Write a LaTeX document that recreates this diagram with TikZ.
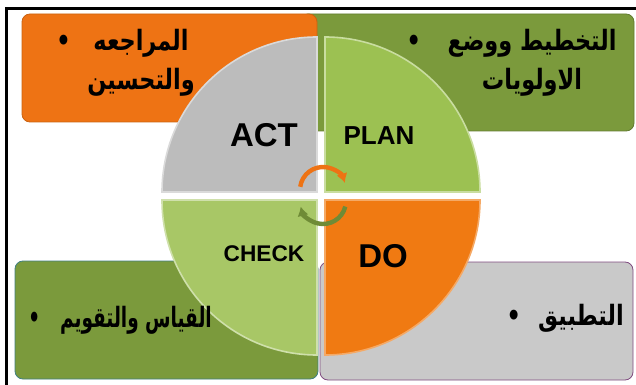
\documentclass[tikz,border=0pt]{standalone}
\usepackage{fontspec}
\setmainfont{Liberation Sans}
\newfontfamily\arabicfont[Script=Arabic, FakeStretch=0.8]{DejaVu Sans}
\newfontfamily\arabictight[Script=Arabic, FakeStretch=0.66]{DejaVu Sans}
\TeXXeTstate=1
\usetikzlibrary{arrows.meta}
\newcommand\bul[1]{\llap{\textbullet\hspace{#1}}}
\begin{document}
\begin{tikzpicture}[x=0.75pt, y=-0.75pt,
  box/.style={rounded corners=6pt, line width=0.6pt},
  quad/.style={line width=1.2pt},
  tag/.style={font=\bfseries, text=black, inner sep=0pt},
  ar/.style={font=\arabicfont\bfseries\fontsize{21pt}{29pt}\selectfont, align=center, inner sep=0pt},
  cyc/.style={line width=3.3pt, -{Latex[length=7pt, width=8.5pt]}}]
\useasboundingbox (0,0) rectangle (636,385);
\definecolor{orng}{HTML}{EE7314}
\definecolor{olive}{HTML}{7B9A3C}
\definecolor{pale}{HTML}{C9C9C9}
\definecolor{actcol}{HTML}{BCBCBC}
\definecolor{plancol}{HTML}{9CC152}
\definecolor{checkcol}{HTML}{A8C766}
\definecolor{docol}{HTML}{F07A12}
% boxes
\fill[olive, box, draw=olive!80!black] (300,14) rectangle (634,131);
\fill[orng, box, draw=orng!85!black] (22,14) rectangle (317,122);
\fill[pale, box, draw=violet!40!gray] (320,262) rectangle (633,380);
\fill[olive, box, draw=teal!50!gray] (15,261) rectangle (318,379);
% quadrants
\fill[actcol, quad, draw=white!45!actcol] (317,192) -- ++(180:155) arc[start angle=180, end angle=270, radius=155] -- cycle;
\fill[plancol, quad, draw=white!45!plancol] (325,192) -- ++(270:155) arc[start angle=270, end angle=360, radius=155] -- cycle;
\fill[docol, quad, draw=white!35!docol] (325,200) -- ++(0:155) arc[start angle=0, end angle=90, radius=155] -- cycle;
\fill[checkcol, quad, draw=white!45!checkcol] (317,200) -- ++(90:155) arc[start angle=90, end angle=180, radius=155] -- cycle;
% labels
\node[tag, font=\bfseries\fontsize{24.75pt}{28pt}\selectfont] (act) at (264,135) {ACT};
\node[tag, font=\bfseries\fontsize{19.5pt}{22pt}\selectfont] (plan) at (379,136) {PLAN};
\node[tag, font=\bfseries\fontsize{17pt}{20pt}\selectfont] (check) at (264,254) {CHECK};
\node[tag, font=\bfseries\fontsize{24.75pt}{28pt}\selectfont] (do) at (383,256) {DO};
\node[ar] (review) at (141,63) {\bul{17pt}\beginR المراجعه\endR\\ \beginR والتحسين\endR};
\node[ar] (planning) at (532,63) {\bul{20pt}\beginR التخطيط ووضع\endR\\ \beginR الاولويات\endR};
\node[ar, font=\arabictight\bfseries\fontsize{21pt}{29pt}\selectfont] (measure) at (136,320) {\bul{15pt}\beginR القياس والتقويم\endR};
\node[ar] (apply) at (581,318) {\bul{13pt}\beginR التطبيق\endR};
% cycle arrows
\coordinate (hubup) at (323,190);
\coordinate (hubdown) at (323,201);
\draw[cyc, orng] ([shift={(188:23)}]hubup) arc[start angle=188, end angle=342, radius=23];
\draw[cyc, olive!90!black] ([shift={(14:23)}]hubdown) arc[start angle=14, end angle=166, radius=23];
% frame
\draw[line width=2.25pt] (6,385) -- (6,9) -- (636,9);
\end{tikzpicture}
\end{document}
